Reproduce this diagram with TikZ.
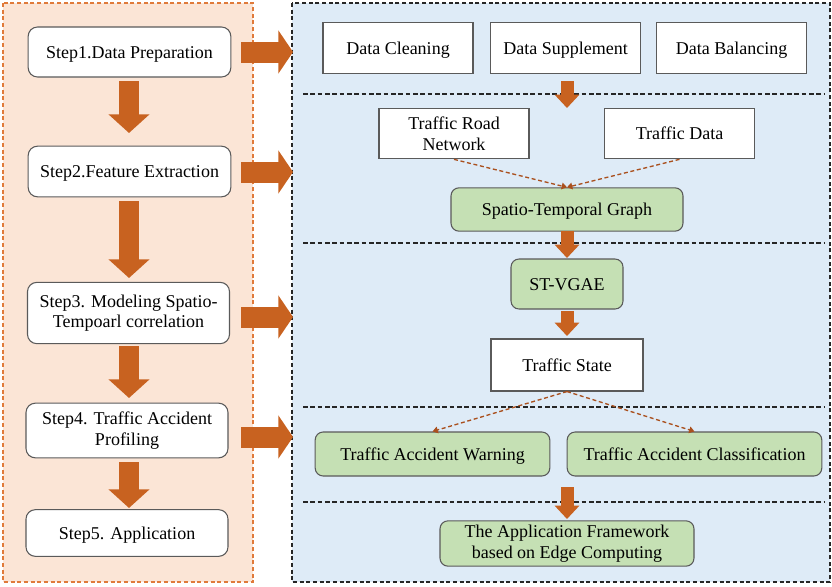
\documentclass[tikz,border=0pt]{standalone}
\usepackage{fontspec}
\setmainfont{Liberation Serif}
\usetikzlibrary{arrows.meta}
\definecolor{panelorange}{RGB}{251,229,214}
\definecolor{panelblue}{RGB}{222,235,247}
\definecolor{edgeorange}{RGB}{224,122,58}
\definecolor{blockarrow}{RGB}{200,98,32}
\definecolor{dasharrow}{RGB}{170,80,30}
\definecolor{greenfill}{RGB}{197,224,180}
\definecolor{boxline}{RGB}{90,90,90}
\tikzset{
  txt/.style={font=\fontsize{13.5pt}{15.5pt}\selectfont, align=center, text=black},
  oneline/.style={text height=1.15em, text depth=0.22em},
  twoline/.style={yshift=-1pt},
  stepbox/.style={txt, draw=boxline, line width=0.8pt, fill=white, rounded corners=7pt, inner sep=0pt},
  plainbox/.style={txt, draw=boxline, line width=0.8pt, fill=white, inner sep=0pt},
  greenbox/.style={txt, draw=boxline, line width=0.8pt, fill=greenfill, rounded corners=6pt, inner sep=0pt},
  bigdown/.style={draw=blockarrow, line width=15pt, -{Triangle[width=30pt,length=14pt]}},
  bigright/.style={draw=blockarrow, line width=15.75pt, -{Triangle[width=32pt,length=11pt]}},
  smalldown/.style={draw=blockarrow, line width=9.75pt, -{Triangle[width=18pt,length=10pt]}},
  dashlink/.style={draw=dasharrow, line width=1pt, dash pattern=on 3pt off 2pt, -{Triangle[width=5pt,length=4pt]}},
  divider/.style={draw=black!85, line width=0.9pt, dash pattern=on 3.5pt off 2pt},
}
\begin{document}
\begin{tikzpicture}[x=0.75pt, y=-0.75pt]
\useasboundingbox (0,0) rectangle (832,586);

% panels
\draw[fill=panelorange, draw=edgeorange, line width=1.1pt, dash pattern=on 3pt off 2pt] (3,3) rectangle (253,582);
\draw[fill=panelblue, draw=black!85, line width=1.1pt, dash pattern=on 3pt off 2pt] (292,3) rectangle (830,582);

% section dividers
\draw[divider] (303,94) -- (824,94);
\draw[divider] (303,243) -- (824,243);
\draw[divider] (303,407) -- (824,407);
\draw[divider] (303,502) -- (824,502);

% left column: steps
\node[stepbox, oneline, minimum width=152pt, minimum height=37.5pt] (s1) at (129.5,52) {Step1.Data Preparation};
\node[stepbox, oneline, minimum width=152pt, minimum height=38pt] (s2) at (129.5,171.5) {Step2.Feature Extraction};
\node[stepbox, minimum width=151.5pt, minimum height=46pt] (s3) at (128.5,313) {Step3. Modeling Spatio-\\Tempoarl correlation};
\node[stepbox, minimum width=151.5pt, minimum height=41pt] (s4) at (127,430.5) {Step4. Traffic Accident\\Profiling};
\node[stepbox, oneline, minimum width=151.5pt, minimum height=35pt] (s5) at (127,533) {Step5. Application};

% right column: stages
\node[plainbox, oneline, minimum width=112.5pt, minimum height=38pt] (dc) at (398,48) {Data Cleaning};
\node[plainbox, oneline, minimum width=113pt, minimum height=38pt] (ds) at (565.5,48) {Data Supplement};
\node[plainbox, oneline, minimum width=112pt, minimum height=38pt] (db) at (731.5,48) {Data Balancing};

\node[plainbox, minimum width=112.5pt, minimum height=38pt] (rn) at (454,133.5) {Traffic Road\\Network};
\node[plainbox, oneline, minimum width=113pt, minimum height=38pt] (td) at (679.5,133.5) {Traffic Data};

\node[greenbox, oneline, minimum width=174pt, minimum height=32.5pt] (stg) at (567,209.5) {Spatio-Temporal Graph};
\node[greenbox, oneline, minimum width=84pt, minimum height=37.5pt] (vg) at (567,284) {ST-VGAE};
\node[plainbox, oneline, minimum width=114pt, minimum height=39pt] (ts) at (567,365) {Traffic State};

\node[greenbox, oneline, minimum width=176pt, minimum height=33pt] (aw) at (432.5,454) {Traffic Accident Warning};
\node[greenbox, oneline, minimum width=191pt, minimum height=33pt] (ac) at (694.5,454) {Traffic Accident Classification};
\node[greenbox, minimum width=190.5pt, minimum height=34pt] (af) at (567,543.5) {The Application Framework\\based on Edge Computing};

% block arrows between steps
\coordinate (a12s) at (129,81);  \coordinate (a12e) at (129,133);
\coordinate (a23s) at (129,201); \coordinate (a23e) at (129,278);
\coordinate (a34s) at (129,346); \coordinate (a34e) at (129,398);
\coordinate (a45s) at (129,462); \coordinate (a45e) at (129,508);
\draw[bigdown] (a12s) -- (a12e);
\draw[bigdown] (a23s) -- (a23e);
\draw[bigdown] (a34s) -- (a34e);
\draw[bigdown] (a45s) -- (a45e);

% block arrows from steps to stages
\coordinate (r1s) at (241,52);  \coordinate (r1e) at (293,52);
\coordinate (r2s) at (241,172); \coordinate (r2e) at (293,172);
\coordinate (r3s) at (241,317); \coordinate (r3e) at (293,317);
\coordinate (r4s) at (241,437); \coordinate (r4e) at (293,437);
\draw[bigright] (r1s) -- (r1e);
\draw[bigright] (r2s) -- (r2e);
\draw[bigright] (r3s) -- (r3e);
\draw[bigright] (r4s) -- (r4e);

% small block arrows in the stage column
\coordinate (d1s) at (567,81);  \coordinate (d1e) at (567,108);
\coordinate (d2s) at (567,231); \coordinate (d2e) at (567,258);
\coordinate (d3s) at (567,311); \coordinate (d3e) at (567,336);
\coordinate (d4s) at (567,487); \coordinate (d4e) at (567,519);
\draw[smalldown] (d1s) -- (d1e);
\draw[smalldown] (d2s) -- (d2e);
\draw[smalldown] (d3s) -- (d3e);
\draw[smalldown] (d4s) -- (d4e);

% dashed links
\draw[dashlink] (rn.south) -- (stg.north);
\draw[dashlink] (td.south) -- (stg.north);
\draw[dashlink] (ts.south) -- (aw.north);
\draw[dashlink] (ts.south) -- (ac.north);
\end{tikzpicture}
\end{document}
